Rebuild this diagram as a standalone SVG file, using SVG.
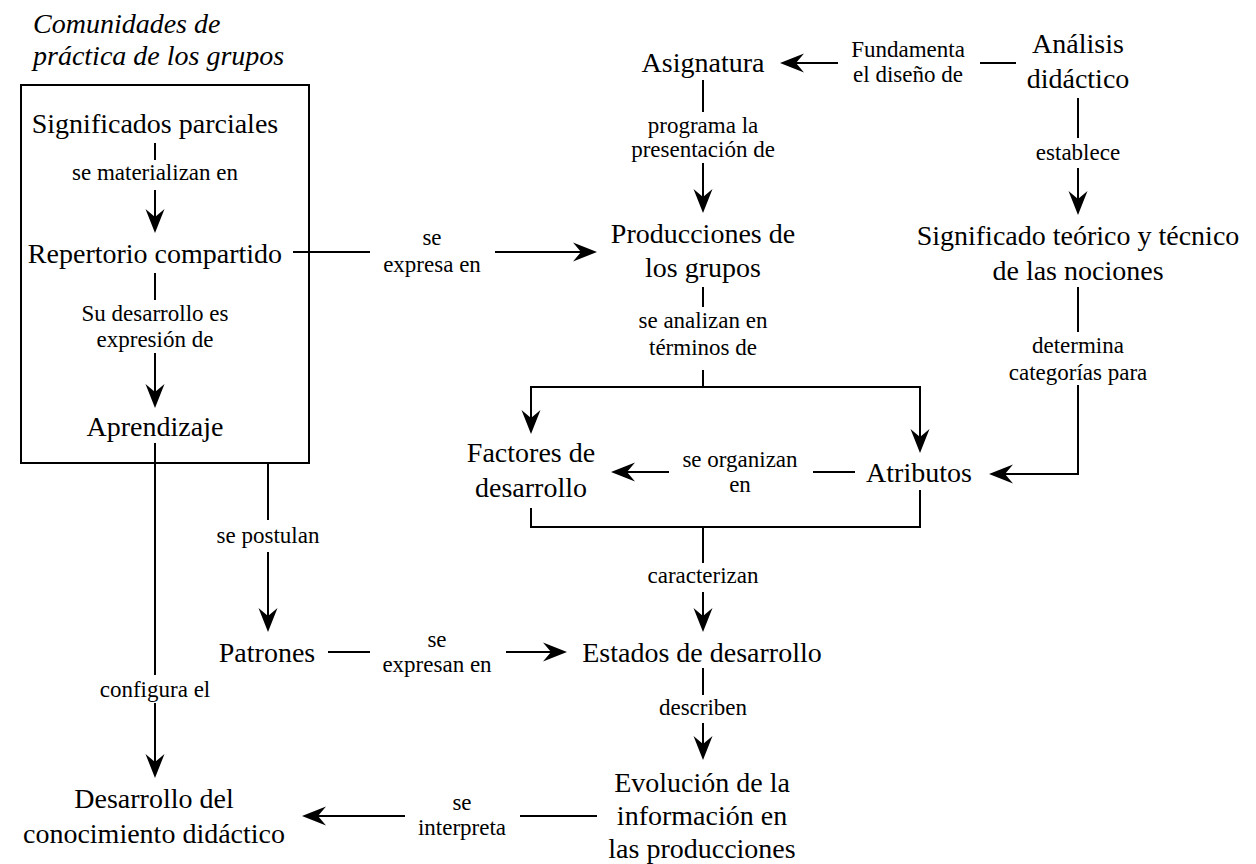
<svg xmlns="http://www.w3.org/2000/svg" width="1256" height="864" viewBox="0 0 1256 864">
<style>
.n{font-family:"Liberation Serif","Times New Roman",serif;font-size:28px;fill:#000;text-anchor:middle}
.l{font-family:"Liberation Serif","Times New Roman",serif;font-size:23px;fill:#000;text-anchor:middle}
.t{font-family:"Liberation Serif","Times New Roman",serif;font-size:28px;font-style:italic;fill:#000}
.c{fill:none;stroke:#000;stroke-width:2}
.a{fill:none;stroke:#000;stroke-width:2;marker-end:url(#ah)}
</style>
<defs>
<marker id="ah" markerUnits="userSpaceOnUse" markerWidth="26" markerHeight="22" viewBox="0 0 26 22" refX="18" refY="11" orient="auto" overflow="visible">
<path d="M24,11 L0,1.5 L8,11 L0,20.5 Z" fill="#000"/>
</marker>
</defs>
<rect width="1256" height="864" fill="#fff"/>

<g id="group-box">
<rect x="21" y="85" width="288" height="378" fill="none" stroke="#000" stroke-width="2"/>
<text class="t" x="33" y="33">Comunidades de</text>
<text class="t" x="33" y="65">práctica de los grupos</text>
</g>

<g id="connectors">
<line class="c" x1="155" y1="143" x2="155" y2="160"/>
<text class="l" x="155" y="180">se materializan en</text>
<line class="a" x1="155" y1="190" x2="155" y2="227"/>
<line class="c" x1="155" y1="273" x2="155" y2="300"/>
<text class="l" x="155" y="321">Su desarrollo es</text>
<text class="l" x="155" y="347">expresión de</text>
<line class="a" x1="155" y1="353" x2="155" y2="402"/>
<line class="c" x1="293" y1="252" x2="370" y2="252"/>
<text class="l" x="432" y="245">se</text>
<text class="l" x="432" y="272">expresa en</text>
<line class="a" x1="495" y1="252" x2="591" y2="252"/>
<line class="c" x1="155" y1="443" x2="155" y2="675"/>
<text class="l" x="155" y="697">configura el</text>
<line class="a" x1="155" y1="703" x2="155" y2="772"/>
<line class="c" x1="268" y1="463" x2="268" y2="520"/>
<text class="l" x="268" y="543">se postulan</text>
<line class="a" x1="268" y1="552" x2="268" y2="626"/>
<line class="c" x1="328" y1="652" x2="370" y2="652"/>
<text class="l" x="437" y="647">se</text>
<text class="l" x="437" y="672">expresan en</text>
<line class="a" x1="506" y1="652" x2="561" y2="652"/>
<line class="c" x1="703" y1="80" x2="703" y2="112"/>
<text class="l" x="703" y="133">programa la</text>
<text class="l" x="703" y="157">presentación de</text>
<line class="a" x1="703" y1="163" x2="703" y2="207"/>
<line class="c" x1="1016" y1="63" x2="980" y2="63"/>
<text class="l" x="908" y="57">Fundamenta</text>
<text class="l" x="908" y="82">el diseño de</text>
<line class="a" x1="838" y1="63" x2="786" y2="63"/>
<line class="c" x1="1078" y1="98" x2="1078" y2="138"/>
<text class="l" x="1078" y="160">establece</text>
<line class="a" x1="1078" y1="168" x2="1078" y2="209"/>
<line class="c" x1="1078" y1="287" x2="1078" y2="332"/>
<text class="l" x="1078" y="353">determina</text>
<text class="l" x="1078" y="380">categorías para</text>
<polyline class="a" points="1078,385 1078,474 995,474"/>
<line class="c" x1="703" y1="287" x2="703" y2="307"/>
<text class="l" x="703" y="328">se analizan en</text>
<text class="l" x="703" y="355">términos de</text>
<line class="c" x1="703" y1="370" x2="703" y2="387"/>
<polyline class="a" points="703,387 531,387 531,428"/>
<polyline class="a" points="703,387 920,387 920,447"/>
<line class="c" x1="855" y1="472" x2="813" y2="472"/>
<text class="l" x="740" y="467">se organizan</text>
<text class="l" x="740" y="492">en</text>
<line class="a" x1="669" y1="472" x2="617" y2="472"/>
<polyline class="c" points="531,508 531,527 920,527 920,490"/>
<line class="c" x1="703" y1="527" x2="703" y2="563"/>
<text class="l" x="703" y="583">caracterizan</text>
<line class="a" x1="703" y1="592" x2="703" y2="626"/>
<line class="c" x1="703" y1="668" x2="703" y2="695"/>
<text class="l" x="703" y="715">describen</text>
<line class="a" x1="703" y1="723" x2="703" y2="754"/>
<line class="c" x1="597" y1="816" x2="520" y2="816"/>
<text class="l" x="462" y="810">se</text>
<text class="l" x="462" y="835">interpreta</text>
<line class="a" x1="405" y1="816" x2="308" y2="816"/>
</g>

<g id="significados"><text class="n" x="155" y="133">Significados parciales</text></g>
<g id="repertorio"><text class="n" x="155" y="263">Repertorio compartido</text></g>
<g id="aprendizaje"><text class="n" x="155" y="436">Aprendizaje</text></g>
<g id="asignatura"><text class="n" x="703" y="72">Asignatura</text></g>
<g id="analisis"><text class="n" x="1078" y="53">Análisis</text><text class="n" x="1078" y="88">didáctico</text></g>
<g id="producciones"><text class="n" x="703" y="243">Producciones de</text><text class="n" x="703" y="277">los grupos</text></g>
<g id="significado"><text class="n" x="1078" y="245">Significado teórico y técnico</text><text class="n" x="1078" y="280">de las nociones</text></g>
<g id="factores"><text class="n" x="531" y="462">Factores de</text><text class="n" x="531" y="497">desarrollo</text></g>
<g id="atributos"><text class="n" x="919" y="482">Atributos</text></g>
<g id="patrones"><text class="n" x="267" y="662">Patrones</text></g>
<g id="estados"><text class="n" x="702" y="662">Estados de desarrollo</text></g>
<g id="evolucion"><text class="n" x="702" y="792">Evolución de la</text><text class="n" x="702" y="825">información en</text><text class="n" x="702" y="858">las producciones</text></g>
<g id="desarrollo"><text class="n" x="154" y="808">Desarrollo del</text><text class="n" x="154" y="843">conocimiento didáctico</text></g>
</svg>
